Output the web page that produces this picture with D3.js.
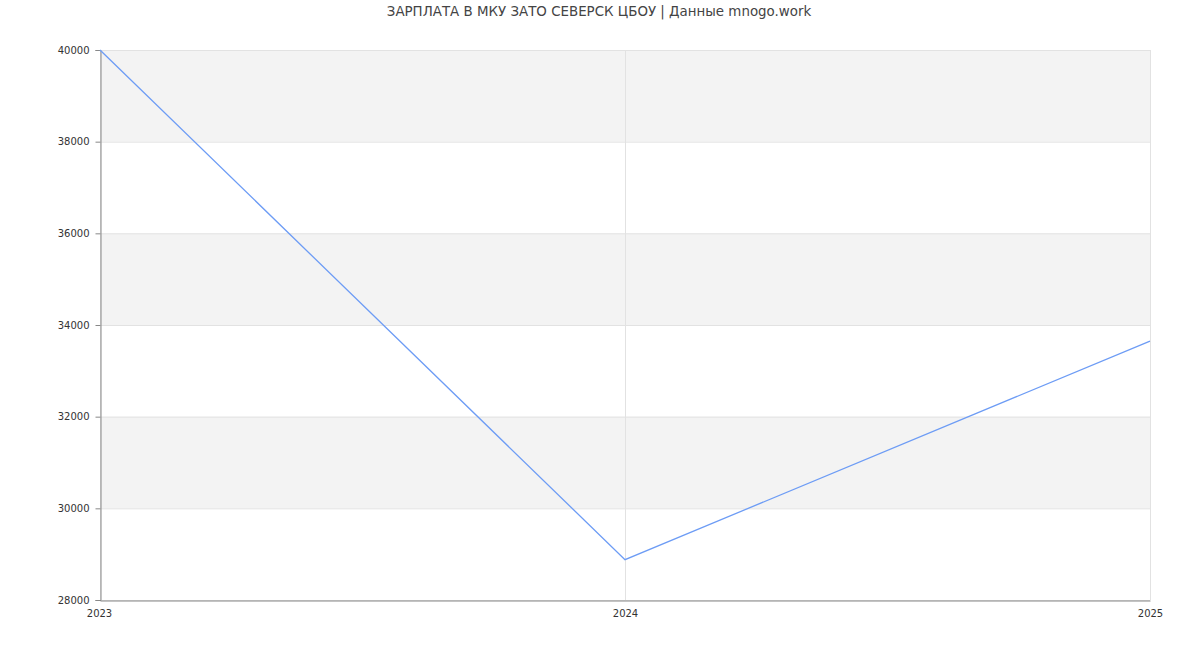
<!DOCTYPE html>
<html><head><meta charset="utf-8">
<script src="https://cdn.jsdelivr.net/npm/d3@7"></script>
<style>body{margin:0;background:#fff;font-family:"DejaVu Sans",sans-serif;}</style>
</head><body><svg id="c" width="1200" height="650"></svg>
<script>
const years = [2023, 2024, 2025];
const salaries = [40000, 28880, 33650];
const yTicks = [28000, 30000, 32000, 34000, 36000, 38000, 40000];
const title = "ЗАРПЛАТА В МКУ ЗАТО СЕВЕРСК ЦБОУ | Данные mnogo.work";

const svg = d3.select("#c");
const m = {l:100, r:1150, t:50, b:600};
const x = d3.scaleLinear().domain([2023, 2025]).range([m.l, m.r]);
const y = d3.scaleLinear().domain([28000, 40000]).range([m.b, m.t]);

// bands
for (let i = 0; i < yTicks.length - 1; i++) {
  if (i % 2 === 1) {
    svg.append("rect").attr("x", m.l).attr("width", m.r - m.l)
      .attr("y", y(yTicks[i+1])).attr("height", y(yTicks[i]) - y(yTicks[i+1]))
      .attr("fill", "#f3f3f3");
  }
}
// horizontal grid
svg.append("g").selectAll("line").data(yTicks).join("line")
  .attr("x1", m.l).attr("x2", m.r).attr("y1", d => y(d)+0.5).attr("y2", d => y(d)+0.5)
  .attr("stroke", "#e2e2e2");
// vertical grid
svg.append("g").selectAll("line").data(years).join("line")
  .attr("x1", d => Math.round(x(d))+0.5).attr("x2", d => Math.round(x(d))+0.5).attr("y1", m.t).attr("y2", m.b)
  .attr("stroke", "#e2e2e2");

// axes
const ya = svg.append("g").attr("transform", `translate(${m.l+0.5},0)`)
  .call(d3.axisLeft(y).tickValues(yTicks).tickSize(5).tickPadding(6).tickFormat(d3.format("d")));
const xa = svg.append("g").attr("transform", `translate(0,${m.b+0.5})`)
  .call(d3.axisBottom(x).tickValues(years).tickSize(0).tickPadding(9).tickFormat(d3.format("d")));
[ya, xa].forEach(a => {
  a.select(".domain").attr("stroke", "#888");
  a.selectAll(".tick line").attr("stroke", "#888");
  a.selectAll("text").attr("fill", "#333").style("font-family", "DejaVu Sans").style("font-size", "10px");
});
xa.selectAll(".tick text").attr("dx", (d,i) => i === 0 ? "-1" : "0");

// line
svg.append("path").datum(years.map((yr, i) => [yr, salaries[i]]))
  .attr("fill", "none").attr("stroke", "#6d9cf5").attr("stroke-width", 1.3)
  .attr("d", d3.line().x(d => x(d[0])).y(d => y(d[1])));

svg.append("text").attr("x", 599).attr("y", 16).attr("text-anchor", "middle")
  .attr("fill", "#444").style("font-size", "13.4px").style("font-family", "DejaVu Sans").text(title);
</script></body></html>
